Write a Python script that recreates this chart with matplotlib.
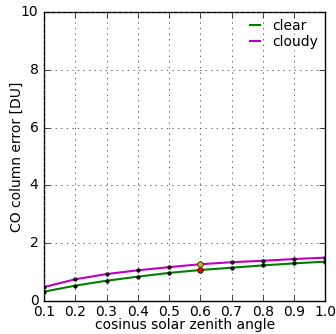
import matplotlib
matplotlib.use('Agg')
import matplotlib.pyplot as plt

plt.style.use('classic')

mu = [0.1, 0.2, 0.3, 0.4, 0.5, 0.6, 0.7, 0.8, 0.9, 1.0]
err_clear = [0.32, 0.53, 0.70, 0.84, 0.97, 1.07, 1.15, 1.23, 1.30, 1.36]
err_cloudy = [0.48, 0.75, 0.93, 1.06, 1.17, 1.27, 1.34, 1.39, 1.45, 1.50]
ref_mu = 0.6
ref_clear = 1.07
ref_cloudy = 1.27

fig = plt.figure(figsize=(3.36, 3.34), dpi=100, facecolor='white')
ax = fig.add_axes([0.131, 0.099, 0.837, 0.865])

ax.plot(mu, err_clear, color='green', lw=1.5, label='clear')
ax.plot(mu, err_cloudy, color='m', lw=1.5, label='cloudy')
ax.plot(mu, err_clear, 'ko', ms=2.5, mec='k')
ax.plot(mu, err_cloudy, 'ko', ms=2.5, mec='k')
ax.plot([ref_mu], [ref_clear], 'o', color='red', ms=4, mec='k', mew=0.5)
ax.plot([ref_mu], [ref_cloudy], 'o', color='y', ms=4, mec='k', mew=0.5)

ax.set_xlim(0.1, 1.0)
ax.set_ylim(0, 10)
ax.set_xticks(mu)
ax.set_yticks([0, 2, 4, 6, 8, 10])
ax.tick_params(labelsize=10)
ax.tick_params(axis='x', pad=3)
ax.grid(True, color='0.3', linestyle=':', lw=0.6)
ax.set_xlabel('cosinus solar zenith angle', fontsize=10, labelpad=-1)
ax.set_ylabel('CO column error [DU]', fontsize=10, labelpad=-2)
ax.legend(loc='upper right', frameon=False, fontsize=10, handlelength=1.3,
          borderaxespad=0.1, labelspacing=0.15, handletextpad=0.6)

fig.savefig('out.png', dpi=100, facecolor='white')
